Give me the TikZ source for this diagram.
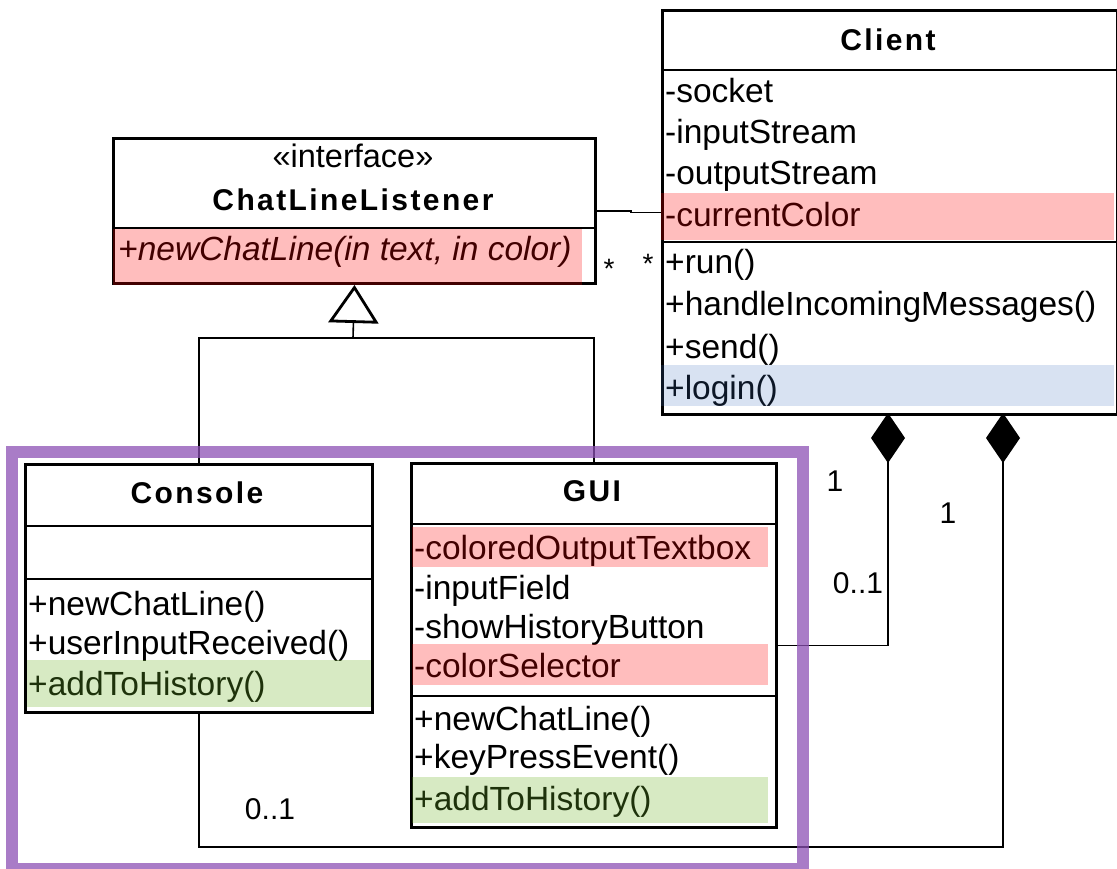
\documentclass[tikz,border=0pt]{standalone}
\usepackage{fontspec}
\setmainfont{Liberation Sans}
\usetikzlibrary{arrows.meta}

\definecolor{hlred}{RGB}{255,0,0}
\definecolor{hlgreen}{RGB}{110,180,40}
\definecolor{hlblue}{RGB}{60,110,190}
\definecolor{groupframe}{RGB}{140,80,180}

\begin{document}
\begin{tikzpicture}[x=1pt,y=-1pt,
  classbox/.style={draw, line width=3pt, inner sep=0pt, anchor=north west},
  member/.style={anchor=base west, inner sep=0pt, font=\fontsize{33.5}{33.5}\selectfont},
  classname/.style={anchor=base, inner sep=0pt,
    font=\fontsize{30}{30}\selectfont\bfseries\addfontfeatures{LetterSpace=8}},
  stereo/.style={anchor=base, inner sep=0pt, font=\fontsize{32.5}{32.5}\selectfont},
  sep/.style={line width=2.5pt},
  link/.style={line width=1.6pt},
  mult/.style={anchor=base, inner sep=0pt, font=\fontsize{30}{30}\selectfont},
  star/.style={anchor=base, inner sep=0pt, font=\fontsize{28}{28}\selectfont},
  compo/.style={-{Diamond[length=50pt,width=34pt]}},
  realize/.style={-{Triangle[length=38pt,width=50pt,fill=white,line width=2.8pt]}},
  hlr/.style={fill=hlred, fill opacity=0.26, draw=none},
  hlg/.style={fill=hlgreen, fill opacity=0.28, draw=none},
  hlb/.style={fill=hlblue, fill opacity=0.2, draw=none},
  group/.style={draw=groupframe, draw opacity=0.75, line width=12pt, inner sep=0pt, anchor=north west}
]
\useasboundingbox (0,0) rectangle (1117,869);

% ---------- interface ChatLineListener ----------
\node[classbox, minimum width=482, minimum height=145] (cll) at (112,137) {};
\draw[sep] (112,228) -- (594,228);
\node[stereo] (cllst) at (353,168) {«interface»};
\node[classname] (cllname) at (353,211) {ChatLineListener};
\node[member] (cllm1) at (118,261) {\itshape +newChatLine(in text, in color)};

% ---------- class Client ----------
\node[classbox, minimum width=455, minimum height=404] (client) at (661,9) {};
\draw[sep] (661,70) -- (1116,70);
\draw[sep] (661,242) -- (1116,242);
\node[classname] (clientname) at (888,51) {Client};
\node[member] (ca1) at (665,103) {-socket};
\node[member] (ca2) at (665,144) {-inputStream};
\node[member] (ca3) at (665,185) {-outputStream};
\node[member] (ca4) at (665,227) {-currentColor};
\node[member] (cm1) at (665,274) {+run()};
\node[member] (cm2) at (665,316) {+handleIncomingMessages()};
\node[member] (cm3) at (665,358) {+send()};
\node[member] (cm4) at (665,399) {+login()};

% ---------- class Console ----------
\node[classbox, minimum width=347, minimum height=248] (console) at (24,463) {};
\draw[sep] (24,526) -- (371,526);
\draw[sep] (24,579) -- (371,579);
\node[classname] (consolename) at (197,503) {Console};
\node[member] (com1) at (28,615) {+newChatLine()};
\node[member] (com2) at (28,654) {+userInputReceived()};
\node[member] (com3) at (28,695) {+addToHistory()};

% ---------- class GUI ----------
\node[classbox, minimum width=365, minimum height=364] (gui) at (410,462) {};
\draw[sep] (410,524) -- (775,524);
\draw[sep] (410,696) -- (775,696);
\node[classname] (guiname) at (592,501) {GUI};
\node[member] (ga1) at (414,559) {-coloredOutputTextbox};
\node[member] (ga2) at (414,599) {-inputField};
\node[member] (ga3) at (414,638) {-showHistoryButton};
\node[member] (ga4) at (414,677) {-colorSelector};
\node[member] (gm1) at (414,730) {+newChatLine()};
\node[member] (gm2) at (414,768) {+keyPressEvent()};
\node[member] (gm3) at (414,810) {+addToHistory()};

% ---------- connectors ----------
% association ChatLineListener -- Client
\draw[link] (cll.east) -- ++(34,0) |- (client.west);
\node[star] (st1) at (609,279) {*};
\node[star] (st2) at (648,273) {*};

% realization of the interface
\coordinate (gen) at (353,338);
\draw[link] (console.north) |- (gen) -| (gui.north);
\draw[link, realize] (gen) -- (cll.south);

% compositions owned by Client
\coordinate (own1) at (888,413);
\coordinate (own2) at (1003,413);
\coordinate (bend2) at (1003,847);
\draw[link, compo] (gui.east) -| (own1);
\draw[link, compo] (console.south) |- (bend2) -- (own2);
\node[mult] (m1) at (835,491) {1};
\node[mult] (m2) at (858,593) {0..1};
\node[mult] (m3) at (948,523) {1};
\node[mult] (m4) at (270,819) {0..1};

% ---------- highlighted members ----------
\fill[hlr] (113,229) rectangle (582,285);
\fill[hlr] (661,193) rectangle (1114,240);
\fill[hlb] (661,365) rectangle (1114,406);
\fill[hlg] (27,660) rectangle (371,707);
\fill[hlr] (412,527) rectangle (768,567);
\fill[hlr] (412,644) rectangle (768,685);
\fill[hlg] (412,777) rectangle (768,823);

% ---------- grouping frame ----------
\node[group, minimum width=791, minimum height=417] (grp) at (6,446) {};
\end{tikzpicture}
\end{document}
